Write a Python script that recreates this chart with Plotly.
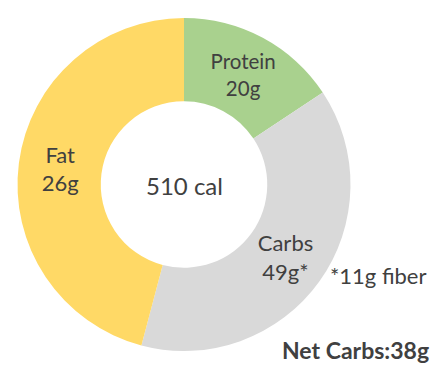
import plotly.graph_objects as go

labels = ["Protein", "Carbs", "Fat"]
grams_text = ["20g", "49g*", "26g"]
calories = [80, 196, 234]
colors = ["#A9D18E", "#D9D9D9", "#FFD966"]
center_text = "510 cal"
fiber_note = "*11g fiber"
net_carbs = "<b>Net Carbs:38g</b>"

W, H = 446, 378
font_family = "Lato, 'Open Sans', sans-serif"
txt_color = "#404040"

fig = go.Figure(go.Pie(
    labels=labels,
    values=calories,
    text=grams_text,
    texttemplate="%{label}<br>%{text}",
    textinfo="text",
    textposition="inside",
    insidetextorientation="horizontal",
    textfont=dict(family=font_family, size=22, color=txt_color),
    marker=dict(colors=colors, line=dict(width=0)),
    hole=0.5,
    sort=False,
    direction="clockwise",
    rotation=0,
    domain=dict(x=[17 / W, 351 / W], y=[1 - 351 / H, 1 - 18 / H]),
    showlegend=False,
    hoverinfo="skip",
))

fig.add_annotation(x=184 / W, y=1 - 185 / H, xref="paper", yref="paper",
                   xanchor="center", yanchor="middle",
                   text=center_text, showarrow=False,
                   font=dict(family=font_family, size=24, color=txt_color))
fig.add_annotation(x=378 / W, y=1 - 275 / H, xref="paper", yref="paper",
                   xanchor="center", yanchor="middle",
                   text=fiber_note, showarrow=False,
                   font=dict(family=font_family, size=22, color=txt_color))
fig.add_annotation(x=355 / W, y=1 - 350 / H, xref="paper", yref="paper",
                   xanchor="center", yanchor="middle",
                   text=net_carbs, showarrow=False,
                   font=dict(family=font_family, size=23, color=txt_color))

fig.update_layout(
    width=W, height=H,
    margin=dict(l=0, r=0, t=0, b=0),
    paper_bgcolor="white",
    plot_bgcolor="white",
)

fig.write_html("out.html", config={"displayModeBar": False},
               post_script="document.body.style.margin='0px';")
